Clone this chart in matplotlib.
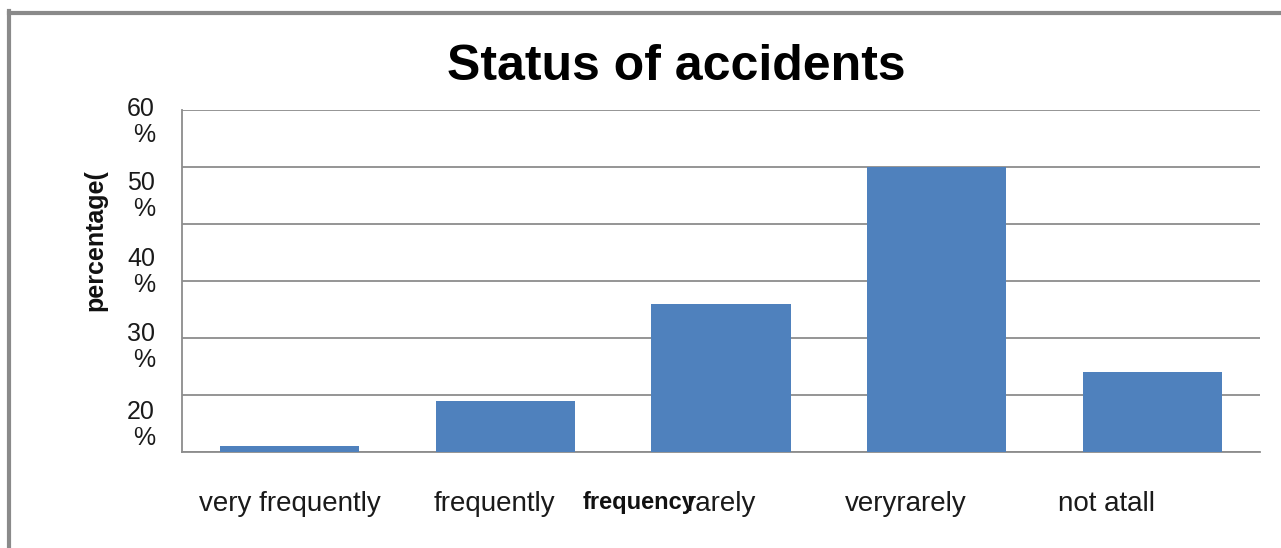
import matplotlib.pyplot as plt
from matplotlib.lines import Line2D
import numpy as np

plt.rcParams['font.family'] = ['Liberation Sans', 'DejaVu Sans']

# data
categories = ['very frequently', 'frequently', 'rarely', 'veryrarely', 'not atall']
percent = [1, 9, 26, 50, 14]
grid_values = [0, 10, 20, 30, 40, 50, 60]
# the y labels in the source sit off the gridlines (garbled export)
ylabel_texts = ['60\n%', '50\n%', '40\n%', '30\n%', '20\n%']
ylabel_pos = [57.9, 44.9, 31.6, 18.4, 4.7]
# x labels are also a bit off-centre in the source
label_shift = [0, -0.05, 0, -0.145, -0.21]

bar_color = '#4f81bd'
grid_color = '#8c8c8c'

fig = plt.figure(figsize=(12.81, 5.48), dpi=100)
ax = fig.add_axes([0.1421, 0.1752, 0.8415, 0.6241])

x = np.arange(len(categories))
ax.bar(x, percent, width=0.645, color=bar_color, zorder=3)

ax.set_xlim(-0.5, len(categories) - 0.5)
ax.set_ylim(0, 60)
ax.set_yticks(grid_values)
ax.set_yticklabels([])
ax.tick_params(axis='y', length=0)
ax.grid(axis='y', color=grid_color, linewidth=1.3, zorder=0)

for v, t in zip(ylabel_pos, ylabel_texts):
    ax.text(-0.025, v, t, transform=ax.get_yaxis_transform(), ha='right', va='center',
            multialignment='right', fontsize=18, color='#1a1a1a', linespacing=1.1)

ax.set_xticks(x + np.array(label_shift))
ax.set_xticklabels(categories, fontsize=20, color='#1a1a1a')
ax.tick_params(axis='x', length=0, pad=28)

for s in ['top', 'right']:
    ax.spines[s].set_visible(False)
for s in ['left', 'bottom']:
    ax.spines[s].set_color(grid_color)
    ax.spines[s].set_linewidth(1.3)

# overlapping bold axis title, as in the source
fig.text(583 / 1281, 1 - 503 / 548, 'frequency', fontsize=17, fontweight='bold',
         ha='left', va='center', color='#111111')
fig.text(95 / 1281, 1 - 240 / 548, 'percentage(', fontsize=18, fontweight='bold',
         rotation=90, ha='center', va='center', color='#111111')

fig.text(676 / 1281, 1 - 67 / 548, 'Status of accidents', fontsize=36, fontweight='bold',
         ha='center', va='center', color='black')

# outer frame of the chart box
fig.add_artist(Line2D([9 / 1281, 1], [1 - 12.5 / 548, 1 - 12.5 / 548],
                      transform=fig.transFigure, color='#8a8a8a', linewidth=3))
fig.add_artist(Line2D([9 / 1281, 9 / 1281], [0, 1 - 11 / 548],
                      transform=fig.transFigure, color='#8a8a8a', linewidth=3))

fig.savefig('out.png', dpi=100)
